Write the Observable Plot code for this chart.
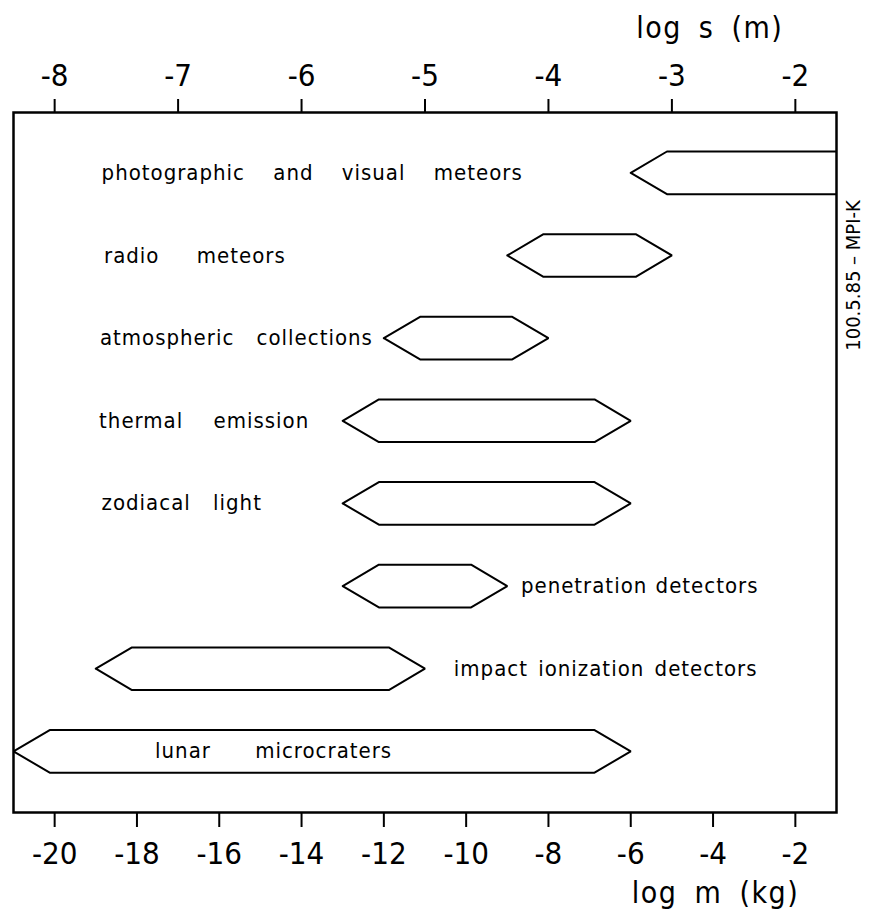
<!DOCTYPE html>
<html>
<head>
<meta charset="utf-8">
<script src="https://cdn.jsdelivr.net/npm/d3@7"></script>
<script src="https://cdn.jsdelivr.net/npm/@observablehq/plot@0.6"></script>
<style>
  html, body { margin: 0; padding: 0; background: #fff; }
</style>
</head>
<body>
<div id="chart"></div>
<script>
// Observation methods (rows, top to bottom)
const categories = [
  "photographic and visual meteors",
  "radio meteors",
  "atmospheric collections",
  "thermal emission",
  "zodiacal light",
  "penetration detectors",
  "impact ionization detectors",
  "lunar microcraters"
];
// mass range covered, log m (kg): lower and upper limits (tips of the hexagons)
const logMLow  = [-6, -9, -12, -13, -13, -13, -19, -21];
const logMHigh = [ 0, -5,  -8,  -6,  -6,  -9, -11,  -6];
// label anchor positions (log m)
const labelX = [-18.86, -18.8, -18.9, -18.92, -18.86, -8.67, -10.3, -17.56];

// axis ticks
const mTicks = [-20, -18, -16, -14, -12, -10, -8, -6, -4, -2];
const sTicks = [-8, -7, -6, -5, -4, -3, -2];
const sToM = s => 3 * s + 4;        // log m = 3 log s + 4
const mToS = m => (m - 4) / 3;

const caption = "100.5.85 – MPI-K";

// ---- styling (not data) ----
const inset = 0.88;   // decades from tip to corner
const half = 0.258;   // half height in row units
const gapStyle = {    // word gaps of the hand-lettered labels, px
  "photographic and visual meteors": 21,
  "radio meteors": 30,
  "atmospheric collections": 15,
  "thermal emission": 23,
  "zodiacal light": 15,
  "penetration detectors": 1,
  "impact ionization detectors": 3,
  "lunar microcraters": 37,
  "log s (m)": 7,
  "log m (kg)": 7
};

const hexPts = [];
categories.forEach((c, i) => {
  const lo = logMLow[i], hi = logMHigh[i];
  const pts = [
    [lo, i], [lo + inset, i - half], [hi - inset, i - half],
    [hi, i], [hi - inset, i + half], [lo + inset, i + half], [lo, i]
  ];
  pts.forEach(([x, y]) => hexPts.push({cat: c, x, y}));
});

const fmt = d => String(Math.round(d)).replace("−", "-");

const chart = Plot.plot({
  width: 869,
  height: 920,
  marginTop: 112,
  marginBottom: 108,
  marginLeft: 13,
  marginRight: 33,
  style: {fontFamily: "'DejaVu Sans Condensed', 'DejaVu Sans', sans-serif", color: "#000", background: "#fff"},
  x: {domain: [-21, -1]},
  y: {domain: [-0.73, 7.74], reverse: true, axis: null},
  marks: [
    Plot.line(hexPts, {x: "x", y: "y", z: "cat", stroke: "#000", strokeWidth: 2, clip: true, strokeLinejoin: "miter"}),
    Plot.frame({stroke: "#000", strokeWidth: 2.5}),
    Plot.axisX({
      anchor: "bottom", ticks: mTicks, tickFormat: fmt,
      tickSize: 15, tickPadding: 14, strokeWidth: 2, fontSize: 31, label: null
    }),
    Plot.axisX({
      anchor: "top", ticks: sTicks.map(sToM), tickFormat: d => fmt(mToS(d)),
      tickSize: 14, tickPadding: 13, strokeWidth: 2, fontSize: 31, label: null
    }),
    Plot.text(categories, {
      x: (d, i) => labelX[i], y: (d, i) => i, text: d => d,
      textAnchor: "start", fontSize: 22, fill: "#000"
    }),
    Plot.text(["log s (m)"], {x: [-4.08], frameAnchor: "top", dy: -84, lineAnchor: "middle", text: d => d, fontSize: 30}),
    Plot.text(["log m (kg)"], {x: [-3.94], frameAnchor: "bottom", dy: 81, lineAnchor: "middle", text: d => d, fontSize: 30}),
    Plot.text([caption], {frameAnchor: "top-right", dx: 17, dy: 163, rotate: -90, textAnchor: "middle", lineAnchor: "middle", text: d => d, fontSize: 20, fill: "#000"})
  ]
});

d3.select(chart).selectAll("text").each(function () {
  const t = this.textContent;
  if (gapStyle[t] != null) {
    d3.select(this)
      .style("letter-spacing", t.startsWith("log") ? "1.5px" : "1px")
      .style("word-spacing", gapStyle[t] + "px");
  }
});

document.getElementById("chart").appendChild(chart);
</script>
</body>
</html>
